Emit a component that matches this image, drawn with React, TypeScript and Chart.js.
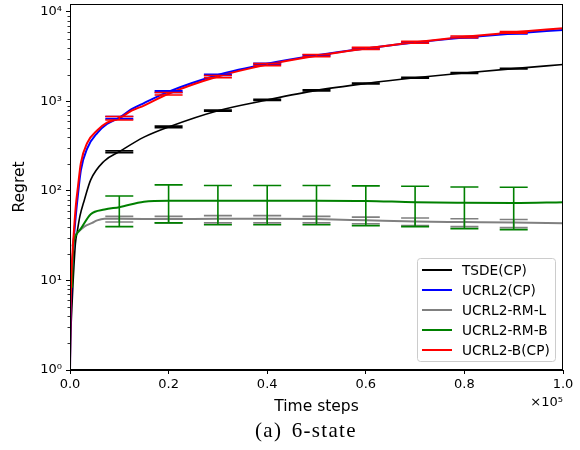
import { useEffect, useRef } from "react";
import { Chart, registerables } from "chart.js";
Chart.register(...registerables);

// ---- data (x in units of 1e5 time steps) ----
const seriesNames = ["TSDE(CP)", "UCRL2(CP)", "UCRL2-RM-L", "UCRL2-RM-B", "UCRL2-B(CP)"];
const seriesColors = ["#000000", "#0000ff", "#808080", "#008000", "#ff0000"];

const tsdeX = [0, 0.001, 0.003, 0.006, 0.011, 0.015, 0.02, 0.029, 0.042, 0.069, 0.1, 0.15, 0.2, 0.3, 0.4, 0.5, 0.6, 0.7, 0.8, 0.9, 1.0];
const tsdeY = [1, 2, 4, 9, 26, 36, 52, 79, 133, 215, 275, 400, 520, 790, 1040, 1330, 1590, 1840, 2080, 2330, 2590];

const ucrlX = [0, 0.001, 0.003, 0.005, 0.008, 0.012, 0.016, 0.022, 0.035, 0.056, 0.075, 0.1, 0.125, 0.15, 0.2, 0.3, 0.4, 0.5, 0.6, 0.7, 0.8, 0.9, 1.0];
const ucrlY = [1, 3, 9, 16, 30, 55, 90, 170, 300, 450, 560, 660, 820, 960, 1290, 1980, 2640, 3280, 3920, 4560, 5170, 5750, 6310];

const ucrlBX = [0, 0.001, 0.003, 0.005, 0.008, 0.012, 0.016, 0.022, 0.035, 0.056, 0.075, 0.1, 0.125, 0.15, 0.2, 0.3, 0.4, 0.5, 0.6, 0.7, 0.8, 0.9, 1.0];
const ucrlBY = [1, 4, 12, 20, 36, 70, 110, 205, 345, 480, 580, 650, 790, 900, 1220, 1900, 2580, 3250, 3920, 4600, 5280, 5930, 6590];

const rmlX = [0.005, 0.008, 0.015, 0.029, 0.045, 0.055, 0.07, 0.1, 0.2, 0.3, 0.4, 0.5, 0.6, 0.7, 0.8, 0.9, 1.0];
const rmlY = [24, 30, 34, 40, 44, 47, 49, 49, 48.5, 49, 49, 48.5, 47, 45.5, 45, 44.5, 43.5];

const rmbX = [0.004, 0.006, 0.008, 0.012, 0.022, 0.042, 0.07, 0.1, 0.15, 0.2, 0.3, 0.4, 0.5, 0.6, 0.7, 0.8, 0.9, 1.0];
const rmbY = [8.3, 20, 27.5, 32, 38, 55, 62, 66, 76, 78, 78, 78, 78, 77.5, 75, 74, 73.5, 75];

// error bars
const errX = [0.1, 0.2, 0.3, 0.4, 0.5, 0.6, 0.7, 0.8, 0.9];
const tsdeLo = [268, 510, 778, 1025, 1312, 1570, 1818, 2055, 2305];
const tsdeHi = [282, 530, 802, 1055, 1348, 1610, 1862, 2105, 2355];
const ucrlLo = [640, 1265, 1950, 2605, 3240, 3875, 4510, 5115, 5690];
const ucrlHi = [680, 1315, 2010, 2675, 3320, 3965, 4610, 5225, 5810];
const rmlLo = [45, 44, 44, 44, 44, 43, 41, 40, 39];
const rmlHi = [52, 52, 53, 53, 52, 51, 50, 49, 48];
const rmbLo = [40, 44, 42, 42, 42, 41, 40, 38, 37];
const rmbHi = [88, 117, 115, 115, 115, 114, 113, 111, 110];
const ucrlBLo = [620, 1180, 1845, 2510, 3165, 3820, 4490, 5160, 5800];
const ucrlBHi = [680, 1260, 1955, 2650, 3335, 4020, 4710, 5400, 6060];

const xTickValues = [0, 0.2, 0.4, 0.6, 0.8, 1.0];
const yTickValues = [1, 10, 100, 1000, 10000];
const yTickLabels = ["10⁰", "10¹", "10²", "10³", "10⁴"];
const xScaleLabel = "×10⁵";
const caption = "(a) 6-state";

const seriesX = [tsdeX, ucrlX, rmlX, rmbX, ucrlBX];
const seriesY = [tsdeY, ucrlY, rmlY, rmbY, ucrlBY];
const seriesLo = [tsdeLo, ucrlLo, rmlLo, rmbLo, ucrlBLo];
const seriesHi = [tsdeHi, ucrlHi, rmlHi, rmbHi, ucrlBHi];
const seriesWidth = [1.6, 2, 2, 2, 2];

const FONT = "DejaVu Sans";

const extrasPlugin = {
  id: "extras",
  afterDatasetsDraw(chart: any) {
    const { ctx, chartArea: a, scales } = chart;
    const xs = scales.x, ys = scales.y;
    ctx.save();
    // error bars (plot order: later on top)
    for (let s = 0; s < seriesNames.length; s++) {
      ctx.strokeStyle = seriesColors[s];
      ctx.lineWidth = 1.6;
      for (let i = 0; i < errX.length; i++) {
        const px = xs.getPixelForValue(errX[i] * 1e5);
        const lo = ys.getPixelForValue(seriesLo[s][i]);
        const hi = ys.getPixelForValue(seriesHi[s][i]);
        ctx.beginPath();
        ctx.moveTo(px, lo); ctx.lineTo(px, hi);
        ctx.moveTo(px - 14, lo); ctx.lineTo(px + 14, lo);
        ctx.moveTo(px - 14, hi); ctx.lineTo(px + 14, hi);
        ctx.stroke();
      }
    }
    ctx.restore();
  },
  afterDraw(chart: any) {
    const { ctx, chartArea: a, scales } = chart;
    const ys = scales.y;
    ctx.save();
    // frame
    ctx.strokeStyle = "#000";
    ctx.lineWidth = 1;
    ctx.strokeRect(Math.round(a.left) + 0.5, Math.round(a.top) + 0.5, Math.round(a.right - a.left) - 1, Math.round(a.bottom - a.top) - 1);
    // minor ticks
    ctx.beginPath();
    for (let k = 0; k < 4; k++) {
      for (let m = 2; m <= 9; m++) {
        const v = m * Math.pow(10, k);
        const py = Math.round(ys.getPixelForValue(v)) + 0.5;
        ctx.moveTo(a.left, py); ctx.lineTo(a.left - 2.5, py);
      }
    }
    ctx.lineWidth = 0.8;
    ctx.stroke();
    // x multiplier label
    ctx.fillStyle = "#000";
    ctx.font = `13px "${FONT}"`;
    ctx.textAlign = "right";
    ctx.textBaseline = "middle";
    ctx.fillText(xScaleLabel, a.right, 403);
    // legend
    const bx = 417, by = 258, bw = 138, bh = 103;
    ctx.beginPath();
    (ctx as any).roundRect(bx + 0.5, by + 0.5, bw, bh, 3);
    ctx.fillStyle = "rgba(255,255,255,0.85)";
    ctx.fill();
    ctx.strokeStyle = "#cccccc";
    ctx.lineWidth = 1;
    ctx.stroke();
    ctx.textAlign = "left";
    ctx.font = `13.7px "${FONT}"`;
    for (let i = 0; i < seriesNames.length; i++) {
      const ly = 270 + 20 * i;
      ctx.strokeStyle = seriesColors[i];
      ctx.lineWidth = 2;
      ctx.beginPath();
      ctx.moveTo(422, ly); ctx.lineTo(452, ly);
      ctx.stroke();
      ctx.fillStyle = "#000";
      ctx.fillText(seriesNames[i], 462, ly + 1);
    }
    ctx.restore();
  },
};

export default function App() {
  const ref = useRef<HTMLCanvasElement | null>(null);
  useEffect(() => {
    document.body.style.margin = "0";
    if (!ref.current) return;
    const datasets = seriesNames.map((name, s) => ({
      label: name,
      data: seriesX[s].map((x, i) => ({ x: x * 1e5, y: seriesY[s][i] })),
      borderColor: seriesColors[s],
      backgroundColor: seriesColors[s],
      borderWidth: seriesWidth[s],
      pointRadius: 0,
      fill: false,
      cubicInterpolationMode: "monotone" as const,
      order: seriesNames.length - s,
    }));
    const chart = new Chart(ref.current, {
      type: "line",
      data: { datasets },
      options: {
        animation: false,
        responsive: false,
        devicePixelRatio: 1,
        layout: { padding: { left: 0, right: 17, top: 4, bottom: 30 } },
        plugins: { legend: { display: false }, tooltip: { enabled: false } },
        scales: {
          x: {
            type: "linear",
            min: 0,
            max: 100000,
            afterBuildTicks: (s: any) => { s.ticks = xTickValues.map((v) => ({ value: v * 1e5 })); },
            afterFit: (s: any) => { s.height = 50; s.paddingLeft = 0; s.paddingRight = 0; },
            ticks: {
              callback: (v: any) => (Number(v) / 1e5).toFixed(1),
              font: { family: FONT, size: 13 },
              color: "#000",
              padding: 3,
              maxRotation: 0,
              autoSkip: false,
            },
            grid: { display: true, drawOnChartArea: false, drawTicks: true, tickLength: 4, color: "#000", lineWidth: 1 },
            border: { display: true, color: "#000", width: 1 },
            title: { display: true, text: "Time steps", font: { family: FONT, size: 15.5 }, color: "#000", padding: { top: 0, bottom: 4 } },
          },
          y: {
            type: "logarithmic",
            min: 1,
            max: 12280,
            afterBuildTicks: (s: any) => { s.ticks = yTickValues.map((v) => ({ value: v })); },
            afterFit: (s: any) => { s.width = 70; s.paddingTop = 0; s.paddingBottom = 0; },
            ticks: {
              callback: (v: any) => {
                const idx = yTickValues.indexOf(Number(v));
                return idx >= 0 ? yTickLabels[idx] : "";
              },
              font: { family: FONT, size: 13 },
              color: "#000",
              padding: 4,
              autoSkip: false,
            },
            grid: { display: true, drawOnChartArea: false, drawTicks: true, tickLength: 4, color: "#000", lineWidth: 1 },
            border: { display: true, color: "#000", width: 1 },
            title: { display: true, text: "Regret", font: { family: FONT, size: 15.5 }, color: "#000", padding: { top: 11, bottom: 0 } },
          },
        },
      },
      plugins: [extrasPlugin],
    });
    return () => chart.destroy();
  }, []);
  return (
    <div style={{ position: "relative", width: 580, height: 450, background: "#fff" }}>
      <canvas ref={ref} width={580} height={450} style={{ display: "block" }} />
      <div
        style={{
          position: "absolute",
          left: 255,
          top: 420,
          fontFamily: '"Liberation Serif", serif',
          fontSize: 21,
          lineHeight: "21px",
          letterSpacing: "1.3px",
          wordSpacing: "3px",
          color: "#000",
          whiteSpace: "nowrap",
        }}
      >
        {caption}
      </div>
    </div>
  );
}
